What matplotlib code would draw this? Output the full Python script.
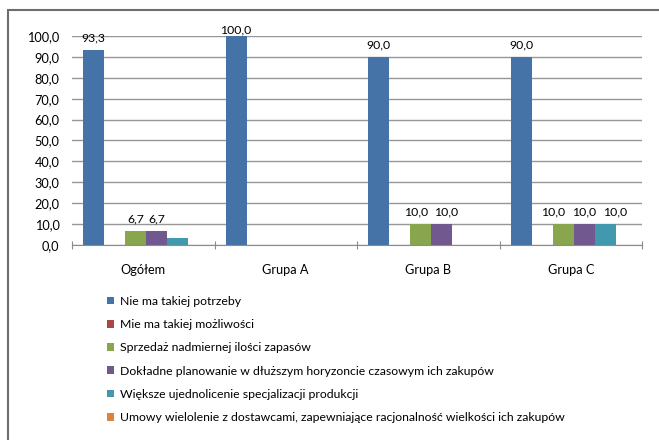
import matplotlib
matplotlib.use("Agg")
import matplotlib.pyplot as plt
from matplotlib.patches import Rectangle
import numpy as np

categories = ["Ogółem", "Grupa A", "Grupa B", "Grupa C"]
series_names = [
    "Nie ma takiej potrzeby",
    "Mie ma takiej możliwości",
    "Sprzedaż nadmiernej ilości zapasów",
    "Dokładne planowanie w dłuższym horyzoncie czasowym ich zakupów",
    "Większe ujednolicenie specjalizacji produkcji",
    "Umowy wielolenie z dostawcami, zapewniające racjonalność wielkości ich zakupów",
]
values = [
    [93.3, 100.0, 90.0, 90.0],
    [0.0, 0.0, 0.0, 0.0],
    [6.7, 0.0, 10.0, 10.0],
    [6.7, 0.0, 10.0, 10.0],
    [3.3, 0.0, 0.0, 10.0],
    [0.0, 0.0, 0.0, 0.0],
]
show_label = [
    [True, True, True, True],
    [False, False, False, False],
    [True, False, True, True],
    [True, False, True, True],
    [False, False, False, True],
    [False, False, False, False],
]
colors = ["#4572A7", "#AA4643", "#89A54E", "#71588F", "#4198AF", "#DB843D"]
yticks = np.arange(0, 101, 10)

plt.rcParams["font.family"] = ["Lato", "DejaVu Sans"]
FS = 8.8

W, H = 659, 440
fig = plt.figure(figsize=(W / 100, H / 100), dpi=100)

# outer border
fig.patches.append(Rectangle((8 / W, -0.1), 1.2, 1 - 10 / H + 0.1,
                             transform=fig.transFigure, fill=False,
                             edgecolor="#6e6e6e", linewidth=1.5))

ax = fig.add_axes([72 / W, 1 - 245 / H, (642 - 72) / W, (245 - 36) / H])
ax.set_xlim(0, len(categories))
ax.set_ylim(0, 100)

nser = len(series_names)
bw = 21 / 142.5
x0 = np.arange(len(categories)) + 0.5
label_items = {j: [] for j in range(len(categories))}
for i, (name, vals, col) in enumerate(zip(series_names, values, colors)):
    xs = x0 + (i - (nser - 1) / 2) * bw + 0.02
    ax.bar(xs, vals, width=bw, color=col, label=name, zorder=3)
    for j, (x, v, s) in enumerate(zip(xs, vals, show_label[i])):
        if s:
            label_items[j].append((i, x, v))

# place labels; spread adjacent wide labels a bit so they do not collide
for j, items in label_items.items():
    small = [it for it in items if it[0] != 0]
    for (i, x, v) in items:
        txt = f"{v:.1f}".replace(".", ",")
        dx = 0
        if i != 0 and len(small) > 1 and len(txt) > 3:
            k = [it[0] for it in small].index(i)
            dx = (k - (len(small) - 1) / 2) * 7
        dy = 4.5 if v < 100 else 0.5
        ax.annotate(txt, (x, v), xytext=(dx, dy), textcoords="offset points",
                    ha="center", va="bottom", fontsize=FS, color="#000000",
                    zorder=4)

ax.set_yticks(yticks)
ax.set_yticklabels([f"{v:.1f}".replace(".", ",") for v in yticks], fontsize=FS + 0.4)
ax.yaxis.grid(True, color="#969696", linewidth=1.0, zorder=0)
ax.tick_params(axis="y", length=0, pad=9)
ax.set_xticks(range(len(categories) + 1))
ax.set_xticklabels([])
ax.set_xticks(x0, minor=True)
ax.set_xticklabels(categories, minor=True, fontsize=FS + 0.4)
ax.tick_params(axis="x", which="major", direction="inout", length=6, color="#8c8c8c")
ax.tick_params(axis="x", which="minor", length=0, pad=14)
for sp in ["top", "right", "left"]:
    ax.spines[sp].set_visible(False)
ax.spines["bottom"].set_color("#8c8c8c")
ax.spines["bottom"].set_zorder(5)

handles, labels = ax.get_legend_handles_labels()
leg = fig.legend(handles, labels, loc="upper left",
                 bbox_to_anchor=(102 / W, 1 - 291 / H), frameon=False,
                 fontsize=FS, handlelength=0.6, handleheight=0.6,
                 handletextpad=0.5, labelspacing=1.0, borderaxespad=0)

fig.savefig("out.png", dpi=100)
